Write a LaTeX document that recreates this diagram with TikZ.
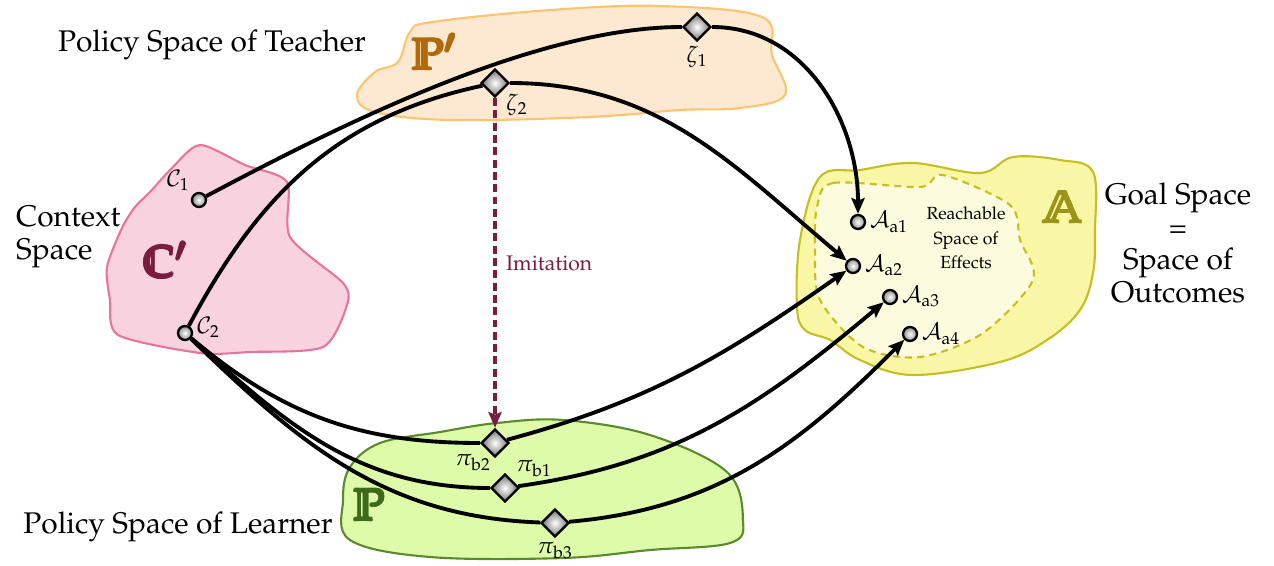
\documentclass[tikz,border=0pt]{standalone}
\usepackage[T1]{fontenc}
\usepackage{mathpazo}
\usetikzlibrary{shapes.geometric, arrows.meta}

\definecolor{tchfill}{HTML}{FDE9D2}
\definecolor{tchline}{HTML}{FFC370}
\definecolor{tchtext}{HTML}{B06A0A}
\definecolor{ctxfill}{HTML}{F8D2DF}
\definecolor{ctxline}{HTML}{E97499}
\definecolor{ctxtext}{HTML}{7A1C40}
\definecolor{goalfill}{HTML}{F9F6A6}
\definecolor{goalline}{HTML}{C6BE22}
\definecolor{goalin}{HTML}{FDFBDD}
\definecolor{goaltext}{HTML}{9C9418}
\definecolor{lrnfill}{HTML}{DDFBA8}
\definecolor{lrnline}{HTML}{5A8A2C}
\definecolor{lrntext}{HTML}{3E6A1C}

% heavy letters for the space names
\newcommand{\shiftbb}[3]{\makebox[0pt][l]{\hspace{#1}\raisebox{#2}{#3}}}
\newcommand{\heavybb}[1]{\shiftbb{-0.7pt}{0pt}{#1}\shiftbb{0.7pt}{0pt}{#1}%
    \shiftbb{0pt}{0.7pt}{#1}\shiftbb{0pt}{-0.7pt}{#1}%
    \shiftbb{-0.5pt}{0.5pt}{#1}\shiftbb{0.5pt}{0.5pt}{#1}%
    \shiftbb{-0.5pt}{-0.5pt}{#1}\shiftbb{0.5pt}{-0.5pt}{#1}#1}

\begin{document}
\begin{tikzpicture}[
    x=0.02cm, y=-0.02cm, >={Stealth[length=9pt, width=7.5pt, inset=1.5pt]},
    spot/.style={circle, draw, line width=1.3pt, inner sep=0pt, minimum size=0.28cm,
        inner color=white, outer color=black!45},
    policy/.style={diamond, draw, line width=1.3pt, inner sep=0pt, minimum size=0.56cm,
        inner color=white, outer color=black!55},
    link/.style={->, line width=2.2pt},
    plain/.style={line width=2.2pt},
    blob/.style={line width=1.2pt},
    caption/.style={font=\fontsize{17}{18.5}\selectfont, align=center},
    sub/.style={font=\fontsize{13}{15}\selectfont, inner sep=2pt},
    bbname/.style={font=\fontsize{25}{28}\selectfont}
]
    \useasboundingbox (0,0) rectangle (1274,565);

    % Spaces
    % Teacher
    \draw[blob, draw=tchline, fill=tchfill] plot[smooth cycle, tension=0.6] coordinates {
        (357,95) (375,72) (398,62) (410,32) (432,22) (550,10) (660,6) (762,17)
        (772,55) (785,95) (740,108) (680,110) (590,117) (450,120) (375,112)};
    % Context
    \draw[blob, draw=ctxline, fill=ctxfill] plot[smooth cycle, tension=0.45] coordinates {
        (200,145) (245,165) (287,182) (290,237) (343,283) (347,305) (323,347)
        (250,352) (200,353) (118,335) (110,300) (107,267) (122,228) (135,207)
        (150,192) (172,168)};
    % Goal
    \draw[blob, draw=goalline, fill=goalfill] plot[smooth cycle, tension=0.6] coordinates {
        (797,307) (800,240) (820,177) (860,170) (913,163) (980,173) (1013,157)
        (1060,160) (1093,172) (1095,230) (1093,273) (1080,310) (1047,340)
        (1000,362) (913,375) (860,360) (830,340) (805,330)};
    \draw[blob, draw=goalline, fill=goalin, dash pattern=on 4pt off 3pt] plot[smooth cycle, tension=0.5] coordinates {
        (817,207) (833,183) (920,187) (943,175) (1010,205) (1020,240) (1033,280)
        (983,333) (920,357) (863,347) (820,300) (815,250)};
    % Learner
    \draw[blob, draw=lrnline, fill=lrnfill] plot[smooth cycle, tension=0.6] coordinates {
        (380,443) (440,432) (497,423) (563,420) (650,435) (727,472) (743,520)
        (730,543) (650,550) (563,558) (430,557) (350,540) (343,500) (350,467)};

    % Names
    \node[caption] (teacher) at (212,45) {Policy Space of Teacher};
    \node[caption] (learner) at (178,527) {Policy Space of Learner};
    \node[caption, align=left, anchor=west] (context) at (10,237) {Context\\Space};
    \node[caption] (goal) at (1178,243) {Goal Space\\=\\Space of\\Outcomes};
    \node[font=\fontsize{10}{14}\selectfont, align=center] (reach) at (966,238) {Reachable\\Space of\\Effects};

    \node[bbname, text=tchtext] (Pt) at (434,52) {\heavybb{$\mathbb{P}'$}};
    \node[bbname, text=ctxtext] (Ct) at (165,260) {\heavybb{$\mathbb{C}'$}};
    \node[bbname, text=goaltext] (At) at (1063,207) {\heavybb{$\mathbb{A}$}};
    \node[bbname, text=lrntext] (Pl) at (370,505) {\heavybb{$\mathbb{P}$}};

    % Contexts
    \node[spot, label={[sub]above left:$\mathcal{C}_1$}] (c1) at (199,200) {};
    \node[spot, label={[sub, yshift=3pt]right:$\mathcal{C}_2$}] (c2) at (185,333) {};

    % Teacher policies
    \node[policy, label={[sub]below:$\zeta_1$}] (zeta1) at (697,27) {};
    \node[policy, label={[sub]below right:$\zeta_2$}] (zeta2) at (495,83) {};

    % Learner policies
    \node[policy, label={[sub, xshift=4pt]below left:$\pi_{\mathrm{b2}}$}] (pib2) at (495,443) {};
    \node[policy, label={[sub]above right:$\pi_{\mathrm{b1}}$}] (pib1) at (505,488) {};
    \node[policy, label={[sub]below:$\pi_{\mathrm{b3}}$}] (pib3) at (555,523) {};

    % Outcomes
    \node[spot, label={[sub]right:$\mathcal{A}_{\mathrm{a1}}$}] (Aa1) at (858,222) {};
    \node[spot, label={[sub]right:$\mathcal{A}_{\mathrm{a2}}$}] (Aa2) at (853,266) {};
    \node[spot, label={[sub]right:$\mathcal{A}_{\mathrm{a3}}$}] (Aa3) at (890,297) {};
    \node[spot, label={[sub]right:$\mathcal{A}_{\mathrm{a4}}$}] (Aa4) at (910,334) {};

    % Edges
    % Teacher
    \draw[plain] (c1) to[out=28, in=180, looseness=0.75] (zeta1);
    \draw[link] (zeta1) to[out=0, in=90] (Aa1);
    \draw[plain] (c2) to[out=62, in=192] (zeta2);
    \draw[link] (zeta2) to[out=0, in=140] (Aa2);

    % Learner
    \draw[plain] (c2) to[out=-40, in=180] (pib2);
    \draw[plain] (c2) to[out=-42, in=180] (pib1);
    \draw[plain] (c2) to[out=-44, in=178] (pib3);
    \draw[link] (pib2) to[out=15, in=215] (Aa2);
    \draw[link] (pib1) to[out=8, in=220] (Aa3);
    \draw[link] (pib3) to[out=5, in=225] (Aa4);

    % Imitation
    \draw[->, ctxtext, line width=2pt, dash pattern=on 4.5pt off 2.5pt] (zeta2) -- node[right, text=ctxtext, font=\fontsize{12}{14}\selectfont, xshift=2pt] {Imitation} (pib2);

\end{tikzpicture}
\end{document}
